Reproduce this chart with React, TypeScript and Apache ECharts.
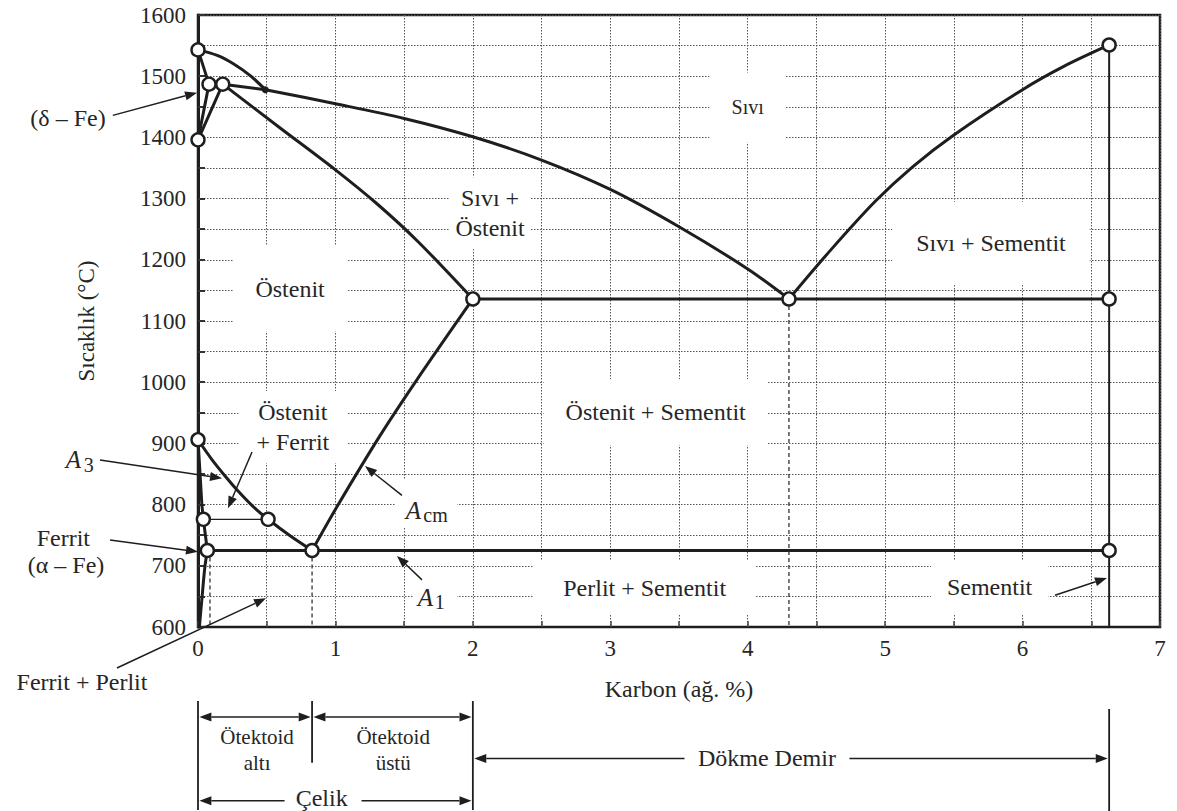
import React, { useEffect, useRef } from "react";
import * as echarts from "echarts";

const W = 1177;
const H = 811;
const FONT = "Liberation Serif, Times New Roman, serif";
const INK = "#1e1e1e";
const TXT = "#262626";

// ---- axes ----
const xMin = 0, xMax = 7, xStep = 0.5;
const yMin = 600, yMax = 1600, yStep = 50;
const xTitle = "Karbon (ağ. %)";
const yTitle = "Sıcaklık (°C)";

// ---- phase boundaries [carbon %, °C] ----
const deltaLiquidus = [[0, 1543], [0.14, 1534], [0.26, 1520], [0.38, 1501], [0.49, 1478]];
const austeniteLiquidus = [[0.49, 1478], [1.0, 1455], [1.5, 1431], [2.0, 1401], [2.5, 1363], [3.0, 1315], [3.5, 1254], [4.0, 1185], [4.3, 1136]];
const cementiteLiquidus = [[4.3, 1136], [4.6, 1215], [4.93, 1296], [5.2, 1352], [5.5, 1404], [6.0, 1478], [6.3, 1516], [6.63, 1551]];
const deltaSolidus = [[0, 1543], [0.08, 1487]];
const deltaSolvusA = [[0, 1396], [0.08, 1487]];
const deltaSolvusB = [[0, 1396], [0.18, 1487]];
const peritectic = [[0.18, 1487], [0.49, 1478]];
const austeniteSolidus = [[0.18, 1487], [0.6, 1415], [1.0, 1347], [1.3, 1292], [1.6, 1230], [2.0, 1136]];
const eutectic = [[2.0, 1136], [6.63, 1136]];
const cementiteLine = [[6.63, 1551], [6.63, 600]];
const a3Line = [[0, 906], [0.1, 874], [0.2, 846], [0.3, 820], [0.4, 797], [0.51, 776], [0.67, 749], [0.83, 725]];
const acmLine = [[0.83, 725], [1.01, 796], [1.32, 911], [1.59, 1003], [2.0, 1136]];
const eutectoid = [[0.068, 725], [6.63, 725]];
const ferriteSolvusUpper = [[0, 906], [0.015, 850], [0.028, 800], [0.039, 776], [0.068, 725]];
const ferriteSolvusLower = [[0.068, 725], [0.05, 698], [0.03, 650], [0.01, 600]];
const tieLine = [[0.039, 776], [0.51, 776]];
const dashedLow = [[0.087, 725], [0.087, 600]];
const dashedEutectoid = [[0.83, 725], [0.83, 600]];
const dashedEutectic = [[4.3, 1136], [4.3, 600]];
const keyPoints = [[0, 1543], [0.08, 1487], [0.18, 1487], [0, 1396], [2, 1136], [4.3, 1136], [6.63, 1136], [6.63, 1551], [0, 906], [0.039, 776], [0.51, 776], [0.068, 725], [0.83, 725], [6.63, 725]];
const smallMark = [[0.49, 1478]];

// ---- region labels: text, [carbon, °C], font size, padding [v, h] ----
const regionText = ["Sıvı", "Sıvı +\nÖstenit", "Östenit", "Sıvı + Sementit", "Östenit + Sementit", "Östenit\n+ Ferrit", "Perlit + Sementit", "Sementit"];
const regionPos = [[4.0, 1449], [2.125, 1276], [0.67, 1153], [5.77, 1228], [3.33, 951], [0.69, 927], [3.25, 664], [5.76, 665]];
const regionSize = [20, 24, 24, 24, 24, 24, 24, 24];
const regionPad = [[20, 22], [6, 6], [28, 22], [26, 24], [18, 22], [6, 18], [12, 30], [12, 16]];

// ---- outer labels ----
const outerText = ["(δ – Fe)", "Ferrit", "(α – Fe)", "Ferrit + Perlit"];
const outerPos = [[-0.946, 1431], [-0.98, 745], [-0.96, 701], [-0.844, 510]];

// subscripted symbols: main letter pos, subscript text, subscript pos
const symSub = ["cm", "1", "3"];
const symMainPos = [[1.568, 791], [1.655, 649], [-0.906, 873]];
const symSubPos = [[1.728, 783], [1.76, 641], [-0.795, 864]];
const symBox = [[[1.433, 840], [1.885, 763]], [[1.565, 698], [1.885, 623]], null];

// ---- annotation arrows: start -> tip ----
const arrowFrom = [[-0.62, 1436], [-0.713, 873], [0.393, 886], [-0.64, 742], [-0.59, 533], [1.484, 815], [1.63, 677], [6.236, 652]];
const arrowTo = [[-0.007, 1473], [0.175, 843], [0.218, 794], [0.0, 723], [0.495, 647], [1.215, 863], [1.448, 716], [6.614, 680]];

// ---- composition ranges below the axis ----
const rangeBars = [[[0, 479], [0, 301]], [[0.83, 479], [0.83, 378]], [[2, 479], [2, 301]], [[6.63, 466], [6.63, 299]]];
const doubleArrows = [[[0.01, 453], [0.82, 453]], [[0.84, 453], [1.99, 453]]];
const singleArrows = [[[0.63, 316], [0.01, 316]], [[1.19, 316], [1.99, 316]], [[3.54, 385], [2.01, 385]], [[4.74, 385], [6.62, 385]]];
const rangeText = ["Ötektoid", "altı", "Ötektoid", "üstü", "Çelik", "Dökme Demir"];
const rangePos = [[0.43, 420], [0.43, 378], [1.42, 420], [1.42, 378], [0.9, 321], [4.14, 386]];
const rangeSize = [21, 21, 21, 21, 24, 24];

function lineSeries(data: number[][], width = 3, smooth: number | boolean = false) {
  return {
    type: "line",
    data,
    symbol: "none",
    showSymbol: false,
    smooth,
    silent: true,
    lineStyle: { color: INK, width, cap: "round", join: "round" },
    z: 2,
  };
}
function dashedSeries(data: number[][]) {
  return {
    type: "line",
    data,
    symbol: "none",
    silent: true,
    lineStyle: { color: "#333", width: 1.3, type: [4, 3] },
    z: 2,
  };
}

export default function App() {
  const ref = useRef<HTMLDivElement>(null);
  useEffect(() => {
    const el = ref.current!;
    const chart = echarts.init(el, null, { renderer: "svg", width: W, height: H });
    const option: any = {
      animation: false,
      backgroundColor: "#fff",
      textStyle: { fontFamily: FONT },
      grid: { left: 198, right: 17, top: 15, bottom: 184, show: true, borderColor: INK, borderWidth: 2.5 },
      xAxis: {
        type: "value", min: xMin, max: xMax, interval: xStep,
        name: xTitle, nameLocation: "middle", nameGap: 50,
        nameTextStyle: { fontFamily: FONT, fontSize: 24, color: TXT },
        axisLine: { show: true, onZero: false, lineStyle: { color: INK, width: 2.2 } },
        axisTick: { show: true, inside: true, length: 6, lineStyle: { color: "#444", width: 1.5 } },
        axisLabel: { formatter: (v: number) => (v % 1 === 0 ? String(v) : ""), fontFamily: FONT, fontSize: 23, color: TXT, margin: 10 },
        splitLine: { show: true, lineStyle: { color: "#555", width: 1, type: [1.5, 1.5] } },
      },
      yAxis: {
        type: "value", min: yMin, max: yMax, interval: yStep,
        name: yTitle, nameLocation: "middle", nameGap: 100, nameRotate: 90,
        nameTextStyle: { fontFamily: FONT, fontSize: 23, color: TXT },
        axisLine: { show: true, onZero: false, lineStyle: { color: INK, width: 3 } },
        axisTick: { show: true, inside: true, length: 7, lineStyle: { color: "#333", width: 2 } },
        axisLabel: { formatter: (v: number) => (v % 100 === 0 ? String(v) : ""), fontFamily: FONT, fontSize: 23, color: TXT, margin: 12 },
        splitLine: { show: true, lineStyle: { color: "#555", width: 1, type: [1.5, 1.5] } },
      },
      series: [
        lineSeries(deltaLiquidus, 3, 0.3),
        lineSeries(austeniteLiquidus, 3, 0.3),
        lineSeries(cementiteLiquidus, 3, 0.3),
        lineSeries(deltaSolidus, 3),
        lineSeries(deltaSolvusA, 3),
        lineSeries(deltaSolvusB, 3),
        lineSeries(peritectic, 3),
        lineSeries(austeniteSolidus, 3, 0.3),
        lineSeries(eutectic, 3),
        lineSeries(cementiteLine, 2),
        lineSeries(a3Line, 3, 0.3),
        lineSeries(acmLine, 3, 0.3),
        lineSeries(eutectoid, 3),
        lineSeries(ferriteSolvusUpper, 3),
        lineSeries(ferriteSolvusLower, 3, 0.3),
        lineSeries(tieLine, 1.3),
        dashedSeries(dashedLow),
        dashedSeries(dashedEutectoid),
        dashedSeries(dashedEutectic),
        {
          type: "scatter", data: smallMark, symbol: "circle", symbolSize: 7, silent: true,
          itemStyle: { color: INK, opacity: 1 }, z: 3,
        },
        {
          type: "scatter", data: keyPoints, symbol: "circle", symbolSize: 13, silent: true,
          itemStyle: { color: "#fff", borderColor: INK, borderWidth: 2.4, opacity: 1 }, z: 4,
        },
      ],
    };
    chart.setOption(option);

    const px = (p: number[]) => chart.convertToPixel({ gridIndex: 0 } as any, p) as number[];
    const g: any[] = [];
    const font = (s: number, italic = false) => `${italic ? "italic " : ""}${s}px ${FONT}`;

    const text = (t: string, p: number[], size: number, opts: any = {}, z = 1.5) => {
      const q = px(p);
      g.push({
        type: "text", x: q[0], y: q[1], z,
        style: { text: t, font: font(size, opts.italic), fill: TXT, align: "center", verticalAlign: "middle", ...opts.style },
      });
    };
    const seg = (a: number[], b: number[], w = 1.5) => {
      g.push({ type: "line", z: 5, shape: { x1: a[0], y1: a[1], x2: b[0], y2: b[1] }, style: { stroke: INK, lineWidth: w } });
    };
    const head = (from: number[], tip: number[]) => {
      const dx = tip[0] - from[0], dy = tip[1] - from[1];
      const len = Math.hypot(dx, dy) || 1;
      const ux = dx / len, uy = dy / len;
      const hl = 12, hw = 4.5;
      const bx = tip[0] - ux * hl, by = tip[1] - uy * hl;
      g.push({
        type: "polygon", z: 5,
        shape: { points: [[tip[0], tip[1]], [bx - uy * hw, by + ux * hw], [bx + uy * hw, by - ux * hw]] },
        style: { fill: INK },
      });
      return [bx, by];
    };

    regionText.forEach((t, i) => {
      text(t, regionPos[i], regionSize[i], {
        style: { backgroundColor: "#fff", padding: regionPad[i], lineHeight: 30 },
      });
    });
    outerText.forEach((t, i) => text(t, outerPos[i], 24, { style: { lineHeight: 28 } }));
    symSub.forEach((s, i) => {
      const box = symBox[i];
      if (box) {
        const a = px(box[0]), b = px(box[1]);
        g.push({ type: "rect", z: 1, shape: { x: a[0], y: a[1], width: b[0] - a[0], height: b[1] - a[1] }, style: { fill: "#fff" } });
      }
      text("A", symMainPos[i], 25, { italic: true });
      text(s, symSubPos[i], 20);
    });
    arrowFrom.forEach((f, i) => {
      const a = px(f), b = px(arrowTo[i]);
      const base = head(a, b);
      seg(a, base, 1.5);
    });
    rangeBars.forEach(([p, q]) => seg(px(p), px(q), 1.8));
    doubleArrows.forEach(([p, q]) => {
      const a = px(p), b = px(q);
      const b1 = head(b, a);
      const b2 = head(a, b);
      seg(b1, b2, 1.5);
    });
    singleArrows.forEach(([p, q]) => {
      const a = px(p), b = px(q);
      const base = head(a, b);
      seg(a, base, 1.5);
    });
    rangeText.forEach((t, i) => text(t, rangePos[i], rangeSize[i]));

    chart.setOption({ graphic: { elements: g } });
    return () => chart.dispose();
  }, []);
  return <div ref={ref} style={{ position: "absolute", left: 0, top: 0, width: W, height: H, background: "#fff" }} />;
}
